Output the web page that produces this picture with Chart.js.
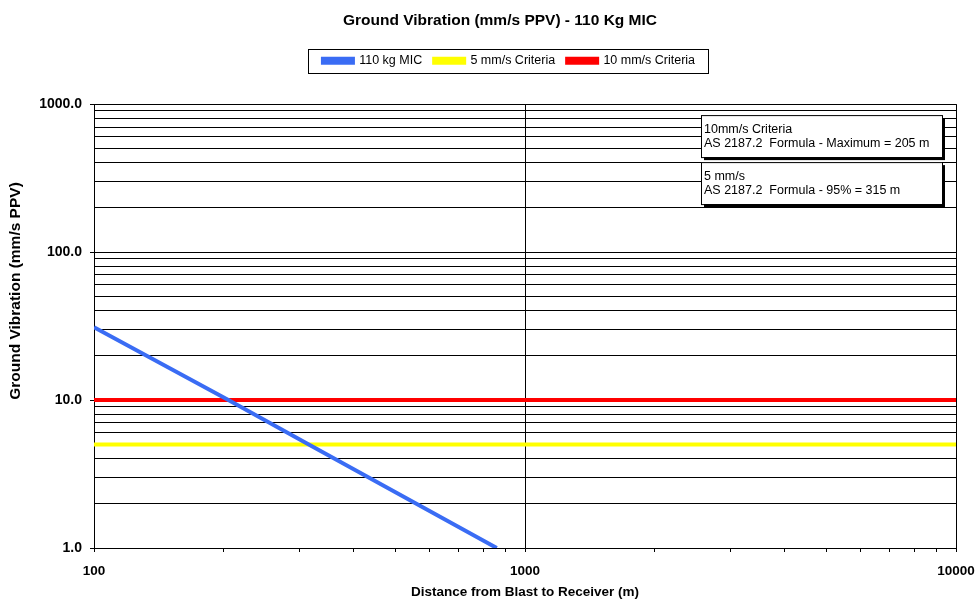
<!DOCTYPE html>
<html>
<head>
<meta charset="utf-8">
<script src="https://cdn.jsdelivr.net/npm/chart.js@4.4.1/dist/chart.umd.min.js"></script>
<style>
  html, body { margin: 0; padding: 0; background: #fff; }
  #wrap { width: 976px; height: 604px; }
</style>
</head>
<body>
<div id="wrap"><canvas id="vibChart" width="976" height="604"></canvas></div>
<script>
// --- Data ---
const micDistance = [100, 205, 315, 860];
const micVibration = [31, 10, 5, 1.0];
const criteriaDistance = [100, 10000];
const criteria5 = [5, 5];
const criteria10 = [10, 10];
const xTickValues = [100, 200, 300, 400, 500, 600, 700, 800, 900, 1000, 2000, 3000, 4000, 5000, 6000, 7000, 8000, 9000, 10000];
const yTickValues = [1, 2, 3, 4, 5, 6, 7, 8, 9, 10, 20, 30, 40, 50, 60, 70, 80, 90, 100, 200, 300, 400, 500, 600, 700, 800, 900, 1000];
const yTitle = 'Ground Vibration (mm/s PPV)';
const noteLines = [
    ["10mm/s Criteria", "AS 2187.2  Formula - Maximum = 205 m"],
    ["5 mm/s", "AS 2187.2  Formula - 95% = 315 m"]
];

const FONT = "Arial, 'Liberation Sans', sans-serif";
const LEGEND_EXTRA = 27;
const isPow10 = v => Math.abs(Math.log10(v) - Math.round(Math.log10(v))) < 1e-9;
const toPoints = (xs, ys) => xs.map((x, i) => ({ x: x, y: ys[i] }));

// --- legend/title: extra room, slight shift right, and a frame round the legend ---
const legendFrame = {
    id: 'legendFrame',
    beforeUpdate(chart) {
        const lg = chart.legend;
        if (lg && !lg._padded) {
            const fit = lg.fit;
            lg.fit = function () { fit.call(this); this.height += LEGEND_EXTRA; };
            lg._padded = true;
        }
    },
    afterLayout(chart) {
        chart.titleBlock.left += 8;
        chart.titleBlock.right += 8;
        chart.legend.left += 17;
        chart.legend.right += 17;
    },
    afterDraw(chart) {
        const boxes = chart.legend.legendHitBoxes;
        if (!boxes || !boxes.length) return;
        const left = Math.min(...boxes.map(b => b.left)) - 15;
        const right = Math.max(...boxes.map(b => b.left + b.width)) + 13;
        const mid = boxes[0].top + boxes[0].height / 2;
        const ctx = chart.ctx;
        ctx.save();
        ctx.strokeStyle = '#000';
        ctx.lineWidth = 1;
        ctx.strokeRect(Math.round(left) + 0.5, Math.round(mid - 12) + 0.5, Math.round(right - left), 24);
        ctx.restore();
    }
};

// --- y axis title (sits above the middle, as in the original) and text boxes ---
const noteBoxes = {
    id: 'noteBoxes',
    afterDatasetsDraw(chart) {
        const ctx = chart.ctx;
        const area = chart.chartArea;
        const x = area.right - 255, w = 241, h = 42;
        ctx.save();
        noteLines.forEach((lines, i) => {
            const y = area.top + 11 + i * 47;
            ctx.fillStyle = '#000';
            ctx.fillRect(x + 3, y + 3, w, h);
            ctx.fillStyle = '#fff';
            ctx.fillRect(x, y, w, h);
            ctx.strokeStyle = '#000';
            ctx.lineWidth = 1;
            ctx.strokeRect(x + 0.5, y + 0.5, w, h);
            ctx.fillStyle = '#000';
            ctx.font = '12.5px ' + FONT;
            ctx.textBaseline = 'middle';
            ctx.fillText(lines[0], x + 3, y + 14);
            ctx.fillText(lines[1], x + 3, y + 28);
        });
        ctx.restore();
    },
    afterDraw(chart) {
        const ctx = chart.ctx;
        ctx.save();
        ctx.translate(16, 291);
        ctx.rotate(-Math.PI / 2);
        ctx.fillStyle = '#000';
        ctx.font = 'bold 15.5px ' + FONT;
        ctx.textAlign = 'center';
        ctx.textBaseline = 'middle';
        ctx.fillText(yTitle, 0, 0);
        ctx.restore();
    }
};

const ctx = document.getElementById('vibChart').getContext('2d');
new Chart(ctx, {
    type: 'line',
    data: {
        datasets: [
            { label: '110 kg MIC', data: toPoints(micDistance, micVibration), borderColor: '#3a6cf4', backgroundColor: '#3a6cf4', borderWidth: 4, pointRadius: 0 },
            { label: '5 mm/s Criteria', data: toPoints(criteriaDistance, criteria5), borderColor: '#ffff00', backgroundColor: '#ffff00', borderWidth: 4, pointRadius: 0 },
            { label: '10 mm/s Criteria', data: toPoints(criteriaDistance, criteria10), borderColor: '#ff0000', backgroundColor: '#ff0000', borderWidth: 4, pointRadius: 0 }
        ]
    },
    options: {
        responsive: false,
        animation: false,
        layout: { padding: { left: 8, right: 0, top: 6, bottom: 4 } },
        plugins: {
            title: {
                display: true,
                text: 'Ground Vibration (mm/s PPV) - 110 Kg MIC',
                color: '#000',
                font: { family: FONT, size: 15.5, weight: 'bold' },
                padding: { top: 5, bottom: 13 }
            },
            legend: {
                display: true,
                labels: {
                    color: '#000',
                    font: { family: FONT, size: 12.5 },
                    boxWidth: 30,
                    boxHeight: 4,
                    padding: 12
                }
            },
            tooltip: { enabled: false }
        },
        scales: {
            x: {
                type: 'logarithmic',
                min: 100,
                max: 10000,
                afterBuildTicks: scale => { scale.ticks = xTickValues.map(v => ({ value: v })); },
                afterFit: scale => { scale.height = 52; scale.paddingRight = 20; },
                ticks: {
                    autoSkip: false,
                    maxRotation: 0,
                    color: '#000',
                    font: { family: FONT, size: 13.5, weight: 'bold' },
                    padding: 11,
                    callback: v => isPow10(v) ? String(v) : ''
                },
                grid: {
                    color: c => isPow10(c.tick.value) ? '#000' : 'rgba(0,0,0,0)',
                    tickColor: '#000',
                    tickLength: 4,
                    lineWidth: 1
                },
                border: { color: '#000', width: 1 },
                title: {
                    display: true,
                    text: 'Distance from Blast to Receiver (m)',
                    color: '#000',
                    font: { family: FONT, size: 13.5, weight: 'bold' },
                    padding: { top: 0, bottom: 0 }
                }
            },
            y: {
                type: 'logarithmic',
                min: 1,
                max: 1000,
                afterBuildTicks: scale => { scale.ticks = yTickValues.map(v => ({ value: v })); },
                afterFit: scale => { scale.width = 86; },
                ticks: {
                    autoSkip: false,
                    color: '#000',
                    font: { family: FONT, size: 14, weight: 'bold' },
                    padding: 8,
                    callback: v => isPow10(v) ? Number(v).toFixed(1) : ''
                },
                grid: {
                    color: '#000',
                    tickColor: c => isPow10(c.tick.value) ? '#000' : 'rgba(0,0,0,0)',
                    tickLength: 4,
                    lineWidth: 1
                },
                border: { color: '#000', width: 1 },
                title: { display: false }
            }
        }
    },
    plugins: [legendFrame, noteBoxes]
});
</script>
</body>
</html>
